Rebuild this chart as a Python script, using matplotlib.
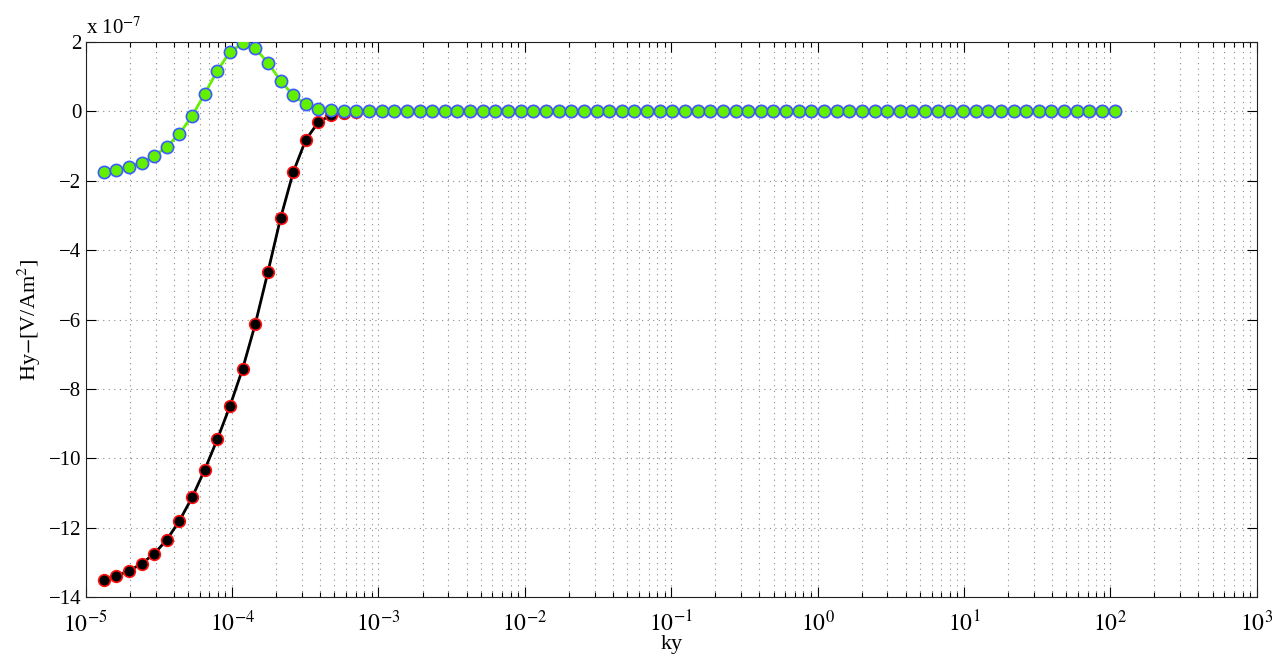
import numpy as np
import matplotlib
matplotlib.use("Agg")
import matplotlib.pyplot as plt
from matplotlib.ticker import LogLocator, FixedLocator, FuncFormatter, NullFormatter

plt.rcParams['font.family'] = ['Liberation Serif', 'DejaVu Serif']
plt.rcParams['mathtext.fontset'] = 'stix'

# wavenumber grid: geometric, 81 samples
ky_min, ky_max, n_ky = 1.325e-5, 1.07e2, 81
ky = np.geomspace(ky_min, ky_max, n_ky)

SCALE = 1e-7
# field component, in units of 1e-7 V/Am^2
hy_black = [-13.50, -13.39, -13.25, -13.04, -12.755, -12.35, -11.80, -11.13,
            -10.33, -9.45, -8.49, -7.42, -6.13, -4.63, -3.08, -1.755,
            -0.815, -0.305, -0.11, -0.04, -0.01] + [0.0] * 60
hy_green = [-1.755, -1.689, -1.593, -1.477, -1.285, -1.017, -0.642, -0.133,
            0.511, 1.173, 1.72, 1.962, 1.818, 1.404, 0.886, 0.463,
            0.204, 0.069, 0.03, 0.01] + [0.0] * 61

y_ticks = [-14, -12, -10, -8, -6, -4, -2, 0, 2]

fig = plt.figure(figsize=(12.72, 6.57), dpi=100)
ax = fig.add_axes([0.0674, 0.0913, 0.9206, 0.8447])

ax.plot(ky, np.array(hy_black) * SCALE, '-o', color='black', lw=2.0,
        ms=8.4, mfc='black', mec='#ff1010', mew=1.2, zorder=3)
ax.plot(ky, np.array(hy_green) * SCALE, '-o', color='#62f000', lw=2.0,
        ms=8.8, mfc='#62f000', mec='#3a5cff', mew=1.2, zorder=4)

ax.set_xscale('log')
ax.set_xlim(1e-5, 1e3)
ax.set_ylim(-14e-7, 2e-7)

ax.xaxis.set_major_locator(LogLocator(base=10, numticks=20))
ax.xaxis.set_minor_locator(LogLocator(base=10, subs=np.arange(2, 10), numticks=200))
ax.xaxis.set_minor_formatter(NullFormatter())
ax.xaxis.set_major_formatter(FuncFormatter(
    lambda v, p: r'$10^{%d}$' % int(round(np.log10(v)))))

ax.yaxis.set_major_locator(FixedLocator([t * SCALE for t in y_ticks]))
ax.yaxis.set_major_formatter(FuncFormatter(
    lambda v, p: ('%d' % round(v / SCALE)).replace('-', '\u2212')))

ax.tick_params(which='both', direction='in', top=True, right=True,
               labelsize=15, colors='black', width=0.8)
ax.tick_params(which='major', length=7)
ax.tick_params(which='minor', length=3.5)
ax.tick_params(axis='y', which='major', pad=3)
ax.tick_params(axis='x', which='major', labelsize=17, pad=10)

grid_style = dict(linestyle=(0, (1, 4)), color='#8a8a8a', lw=0.8)
ax.grid(True, which='major', axis='both', **grid_style)
ax.grid(True, which='minor', axis='x', **grid_style)
ax.set_axisbelow(True)

for s in ax.spines.values():
    s.set_linewidth(0.8)
    s.set_color('#222222')

ax.set_xlabel('ky', fontsize=16, labelpad=-1)
ax.set_ylabel(r'Hy$-$[V/Am$^2$]', fontsize=16, labelpad=4)

ax.text(0.0, 1.005, r'x 10$^{-7}$', transform=ax.transAxes,
        fontsize=15, ha='left', va='bottom')

fig.savefig('out.png', dpi=100)
